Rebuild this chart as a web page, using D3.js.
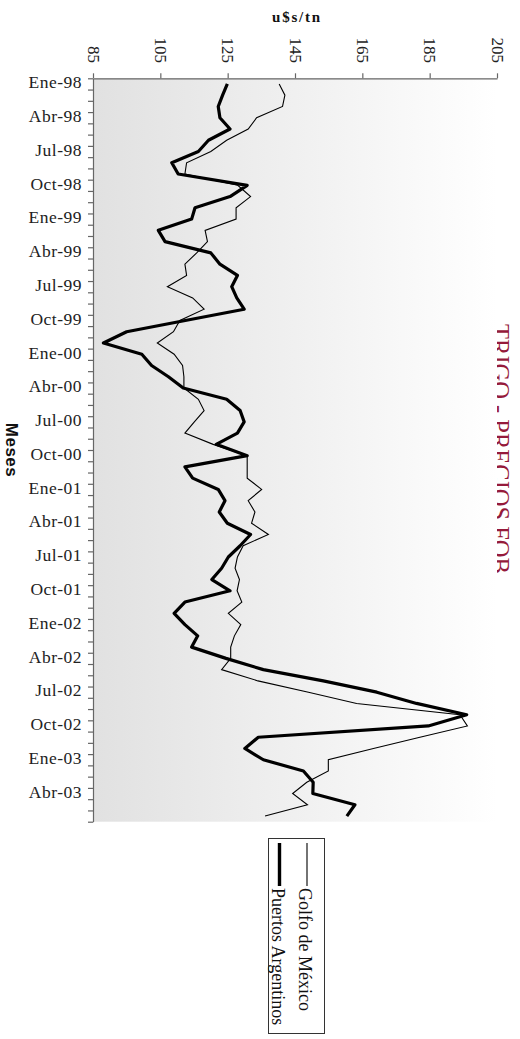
<!DOCTYPE html>
<html>
<head>
<meta charset="utf-8">
<script src="https://cdn.jsdelivr.net/npm/d3@7"></script>
<style>
  html, body { margin: 0; padding: 0; background: #ffffff; }
  svg { display: block; }
</style>
</head>
<body>
<script>
// Monthly FOB wheat prices, Jan 1998 - Jun 2003 (u$s per tonne)
const categories = [
  "Ene-98","Feb-98","Mar-98","Abr-98","May-98","Jun-98","Jul-98","Ago-98","Sep-98","Oct-98","Nov-98","Dic-98",
  "Ene-99","Feb-99","Mar-99","Abr-99","May-99","Jun-99","Jul-99","Ago-99","Sep-99","Oct-99","Nov-99","Dic-99",
  "Ene-00","Feb-00","Mar-00","Abr-00","May-00","Jun-00","Jul-00","Ago-00","Sep-00","Oct-00","Nov-00","Dic-00",
  "Ene-01","Feb-01","Mar-01","Abr-01","May-01","Jun-01","Jul-01","Ago-01","Sep-01","Oct-01","Nov-01","Dic-01",
  "Ene-02","Feb-02","Mar-02","Abr-02","May-02","Jun-02","Jul-02","Ago-02","Sep-02","Oct-02","Nov-02","Dic-02",
  "Ene-03","Feb-03","Mar-03","Abr-03","May-03","Jun-03"
];

const golfoMexico = [
  140.3, 142.0, 141.3, 133.6, 131.1, 124.7, 120.0, 112.8, 112.3, 128.0, 131.8, 127.5,
  127.5, 118.3, 119.0, 115.8, 112.3, 112.8, 107.1, 114.6, 118.0, 110.8, 108.9, 104.1,
  109.1, 111.6, 112.0, 112.0, 116.3, 118.0, 115.1, 112.3, 120.7, 130.8, 130.8, 130.8,
  135.1, 131.1, 133.1, 132.1, 137.1, 129.6, 127.9, 127.2, 128.5, 127.8, 129.2, 125.2,
  128.9, 127.0, 125.9, 125.9, 123.2, 134.0, 149.0, 163.3, 194.0, 196.2, 182.1, 168.3,
  154.9, 154.9, 148.5, 144.3, 148.7, 136.1
];

const puertosArgentinos = [
  124.9, 123.5, 122.2, 122.7, 125.7, 119.3, 116.3, 108.4, 110.3, 130.8, 125.7, 115.3,
  114.3, 104.4, 106.4, 120.0, 122.7, 127.9, 126.2, 127.7, 129.9, 112.4, 95.0, 88.1,
  99.5, 102.4, 107.4, 111.8, 124.7, 128.7, 129.9, 127.9, 121.6, 130.8, 112.3, 114.6,
  122.2, 124.2, 122.5, 124.9, 131.8, 128.7, 125.2, 123.2, 120.3, 125.7, 112.3, 109.1,
  112.3, 116.1, 114.3, 124.5, 135.6, 153.4, 169.3, 181.1, 196.0, 184.6, 134.1, 130.1,
  135.6, 147.5, 150.4, 150.3, 162.8, 160.4
];

const valueTicks = [85, 105, 125, 145, 165, 185, 205];
const seriesNames = ["Golfo de México", "Puertos Argentinos"];
const chartTitle = "TRIGO - PRECIOS FOB";
const valueAxisTitle = "u$s/tn";
const timeAxisTitle = "Meses";

const W = 520, H = 1039;
const plot = { left: 93, right: 497, top: 78.3, bottom: 821.7 };
const serif = "'Liberation Serif', 'Times New Roman', serif";

const svg = d3.select("body").append("svg")
  .attr("width", W).attr("height", H);

// Scales: values run left to right, months run top to bottom
const x = d3.scaleLinear().domain([85, 205]).range([plot.left, plot.right]);
const y = d3.scaleBand().domain(categories).range([plot.top, plot.bottom]).padding(0);
const yEdge = d3.scaleLinear().domain([0, categories.length]).range([plot.top, plot.bottom]);

// Chart title (its lower part sits under the plot area)
svg.append("text")
  .attr("transform", `translate(491.5,449) rotate(90)`)
  .attr("text-anchor", "middle")
  .attr("font-family", serif)
  .attr("font-size", 24.5)
  .attr("fill", "#951a3b")
  .text(chartTitle);

// Plot background gradient
const defs = svg.append("defs");
const grad = defs.append("linearGradient").attr("id", "plotBg")
  .attr("x1", 0).attr("x2", 1).attr("y1", 0).attr("y2", 0);
grad.append("stop").attr("offset", 0).attr("stop-color", "#e1e1e1");
grad.append("stop").attr("offset", 1).attr("stop-color", "#ffffff");

svg.append("rect")
  .attr("x", plot.left).attr("y", plot.top)
  .attr("width", plot.right - plot.left)
  .attr("height", plot.bottom - plot.top)
  .attr("fill", "url(#plotBg)");

// Value axis along the top
const topAxis = svg.append("g")
  .attr("transform", `translate(0,${plot.top})`)
  .call(d3.axisTop(x).tickValues(valueTicks).tickSize(5).tickSizeOuter(0).tickFormat(d3.format("d")));
topAxis.selectAll("path.domain").attr("stroke", "#666").attr("stroke-width", 1.2);
topAxis.selectAll(".tick line").attr("stroke", "#666").attr("stroke-width", 1.2);
topAxis.selectAll(".tick text")
  .attr("x", null).attr("y", null).attr("dy", null)
  .attr("transform", "translate(-5.7,-15.3) rotate(90)")
  .attr("text-anchor", "end")
  .attr("font-family", serif)
  .attr("font-size", 17)
  .attr("fill", "#222");

// Month tick marks on the left
const leftMarks = svg.append("g")
  .attr("transform", `translate(${plot.left},0)`)
  .call(d3.axisLeft(yEdge).tickValues(d3.range(categories.length + 1)).tickSize(5).tickSizeOuter(0).tickFormat(""));
leftMarks.selectAll("path.domain").attr("stroke", "#666").attr("stroke-width", 1.2);
leftMarks.selectAll(".tick line").attr("stroke", "#666").attr("stroke-width", 1.2);

// Quarterly month labels
const leftLabels = svg.append("g")
  .attr("transform", `translate(${plot.left},0)`)
  .call(d3.axisLeft(y).tickValues(categories.filter((d, i) => i % 3 === 0)).tickSize(0).tickPadding(11));
leftLabels.select("path.domain").remove();
leftLabels.selectAll(".tick text")
  .attr("dy", "-0.1em")
  .attr("dominant-baseline", "central")
  .attr("font-family", serif)
  .attr("font-size", 17.5)
  .attr("letter-spacing", 0.5)
  .attr("fill", "#222");

// Series lines
const rows = categories.map((c, i) => ({ c, g: golfoMexico[i], p: puertosArgentinos[i] }));
const yc = d => y(d.c) + y.bandwidth() / 2;

svg.append("path")
  .datum(rows)
  .attr("fill", "none").attr("stroke", "#000").attr("stroke-width", 1.1)
  .attr("stroke-linejoin", "miter")
  .attr("d", d3.line().x(d => x(d.g)).y(yc));

svg.append("path")
  .datum(rows)
  .attr("fill", "none").attr("stroke", "#000").attr("stroke-width", 3.2)
  .attr("stroke-linejoin", "round")
  .attr("d", d3.line().x(d => x(d.p)).y(yc));

// Axis titles
svg.append("text")
  .attr("x", 297).attr("y", 22)
  .attr("text-anchor", "middle")
  .attr("font-family", serif)
  .attr("font-weight", "bold")
  .attr("font-size", 15)
  .attr("letter-spacing", 1.8)
  .attr("fill", "#111")
  .text(valueAxisTitle);

svg.append("text")
  .attr("transform", "translate(5.5,450) rotate(90)")
  .attr("text-anchor", "middle")
  .attr("font-family", "'Liberation Sans', Arial, sans-serif")
  .attr("font-weight", "bold")
  .attr("font-size", 17)
  .attr("letter-spacing", 0.5)
  .attr("fill", "#111")
  .text(timeAxisTitle);

// Legend
const legend = svg.append("g");
legend.append("rect")
  .attr("x", 268.5).attr("y", 838.5).attr("width", 56).attr("height", 195)
  .attr("fill", "#fff").attr("stroke", "#333").attr("stroke-width", 1);

const legendItems = [
  { name: seriesNames[0], lineX: 307, width: 1.1, base: 298.5 },
  { name: seriesNames[1], lineX: 279.5, width: 3.4, base: 271.7 }
];
legendItems.forEach(it => {
  legend.append("line")
    .attr("x1", it.lineX).attr("x2", it.lineX)
    .attr("y1", 843).attr("y2", 886)
    .attr("stroke", "#000").attr("stroke-width", it.width);
  legend.append("text")
    .attr("transform", `translate(${it.base},888) rotate(90)`)
    .attr("font-family", serif)
    .attr("font-size", 18)
    .attr("fill", "#111")
    .text(it.name);
});
</script>
</body>
</html>
